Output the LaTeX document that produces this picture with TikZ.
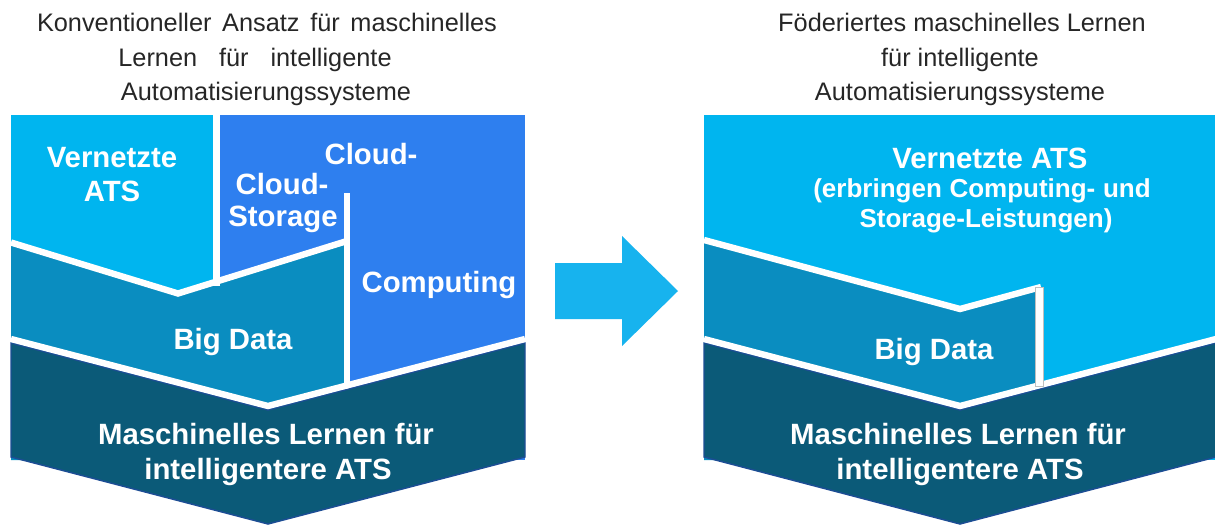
\documentclass[tikz,border=0pt]{standalone}
\usepackage{fontspec}
\setmainfont{Liberation Sans}
\definecolor{atslight}{HTML}{00B5EF}
\definecolor{cloudblue}{HTML}{2E7FEF}
\definecolor{bigdata}{HTML}{0A8DC0}
\definecolor{mldark}{HTML}{0B5A78}
\definecolor{mlborder}{HTML}{1C4D94}
\definecolor{arrowblue}{HTML}{17B3EE}
\definecolor{titlegray}{HTML}{262626}
\begin{document}
\begin{tikzpicture}[x=0.75pt,y=-0.75pt,
  gap/.style={draw=white,line width=4.8pt,line join=miter},
  mlband/.style={fill=mldark,draw=mlborder,line width=1.1pt,line join=miter},
  lbl/.style={text=white,font=\bfseries\fontsize{22}{26}\selectfont,anchor=base,inner sep=0pt},
  sublbl/.style={text=white,font=\bfseries\fontsize{19.5}{23}\selectfont,anchor=base,inner sep=0pt},
  ttl/.style={text=titlegray,font=\fontsize{19}{23}\selectfont,anchor=base,inner sep=0pt}]
\useasboundingbox (0,0) rectangle (1215,525);

% ---------- conventional approach ----------
\fill[atslight] (11,115) rectangle (216,300);
\fill[cloudblue] (216,115) rectangle (525,460);
\fill[bigdata] (11,242.5) -- (178,293.5) -- (347,241) -- (347,460) -- (11,460) -- cycle;
\draw[gap] (216.5,112) -- (216.5,286);
\draw[gap] (11,242.5) -- (178,293.5) -- (347,241);
\draw[gap] (347,193) -- (347,398);
\draw[mlband] (11,343) -- (268,410) -- (525,343) -- (525,457) -- (268,524) -- (11,457) -- cycle;
\draw[gap] (11,339) -- (268,406) -- (525,339);

\node[ttl] (t1a) at (267,31) {\makebox[345pt][s]{Konventioneller Ansatz für maschinelles}};
\node[ttl] (t1b) at (255,66) {\makebox[205pt][s]{Lernen für intelligente}};
\node[ttl] (t1c) at (266,100) {Automatisierungssysteme};

\node[lbl] (vats1) at (112,167) {Vernetzte};
\node[lbl] (vats2) at (112,201) {ATS};
\node[lbl] (cc1) at (371,164) {Cloud-};
\node[lbl] (cs1) at (282,194) {Cloud-};
\node[lbl] (cs2) at (283,226) {Storage};
\node[lbl] (cc2) at (439,292) {Computing};
\node[lbl] (bd1) at (233,349) {Big Data};
\node[lbl] (ml1a) at (266,444) {Maschinelles Lernen für};
\node[lbl] (ml1b) at (268,479) {intelligentere ATS};

% ---------- transition arrow ----------
\fill[arrowblue] (555,263) -- (622,263) -- (622,236) -- (678,291)
  -- (622,346) -- (622,319) -- (555,319) -- cycle;

% ---------- federated learning ----------
\fill[atslight] (704,115) rectangle (1216,460);
\fill[bigdata] (704,240) -- (960,309) -- (1039,287) -- (1039,460) -- (704,460) -- cycle;
\draw[gap] (704,240) -- (960,309) -- (1041,287);
\draw[mlband] (704,343) -- (960,410) -- (1216,343) -- (1216,457) -- (960,524) -- (704,457) -- cycle;
\draw[gap] (704,339) -- (960,406) -- (1216,339);
\draw[fill=white,draw=black!25,line width=0.5pt] (1035,287) rectangle (1043,386);

\node[ttl] (t2a) at (962,31) {Föderiertes maschinelles Lernen};
\node[ttl] (t2b) at (960,66) {für intelligente};
\node[ttl] (t2c) at (960,100) {Automatisierungssysteme};

\node[lbl] (vats3) at (990,168) {Vernetzte ATS};
\node[sublbl] (vats4) at (982,197) {\makebox[253pt][s]{(erbringen Computing- und}};
\node[sublbl] (vats5) at (986,227) {Storage-Leistungen)};
\node[lbl] (bd2) at (934,359) {Big Data};
\node[lbl] (ml2a) at (958,444) {Maschinelles Lernen für};
\node[lbl] (ml2b) at (960,479) {intelligentere ATS};
\end{tikzpicture}
\end{document}
